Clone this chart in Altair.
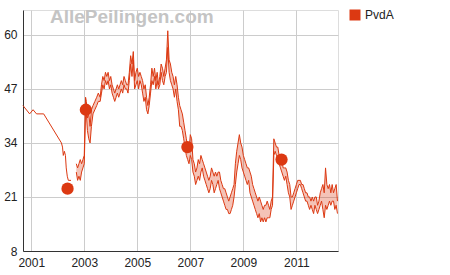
import altair as alt
import pandas as pd

# ---- data (seats for PvdA, x = decimal year) ----
pre_years = [2000.69, 2000.94, 2001.07, 2001.20, 2001.47, 2002.14, 2002.18, 2002.21,
             2002.25, 2002.29, 2002.32, 2002.36, 2002.40, 2002.50]
pre_vals = [43, 41, 42, 41, 41, 34, 33, 31, 32, 31, 28, 26, 25, 25]

band_years = [
    2002.70, 2002.75, 2002.80, 2002.85, 2002.90, 2002.95, 2003.00, 2003.05, 2003.08, 2003.12,
    2003.17, 2003.22, 2003.27, 2003.33, 2003.40, 2003.47, 2003.53, 2003.60, 2003.65, 2003.70,
    2003.75, 2003.80, 2003.85, 2003.90, 2003.95, 2004.00, 2004.05, 2004.10, 2004.15, 2004.20,
    2004.25, 2004.30, 2004.35, 2004.40, 2004.45, 2004.50, 2004.55, 2004.60, 2004.65, 2004.70,
    2004.75, 2004.80, 2004.85, 2004.90, 2004.95, 2005.00, 2005.05, 2005.10, 2005.15, 2005.20,
    2005.25, 2005.30, 2005.35, 2005.40, 2005.45, 2005.50, 2005.55, 2005.60, 2005.65, 2005.70,
    2005.75, 2005.80, 2005.85, 2005.90, 2005.95, 2006.00, 2006.05, 2006.10, 2006.15, 2006.20,
    2006.25, 2006.30, 2006.35, 2006.40, 2006.45, 2006.50, 2006.55, 2006.60, 2006.65, 2006.70,
    2006.75, 2006.80, 2006.85, 2006.90, 2006.95, 2007.00, 2007.05, 2007.10, 2007.15, 2007.20,
    2007.25, 2007.30, 2007.35, 2007.40, 2007.45, 2007.50, 2007.55, 2007.60, 2007.65, 2007.70,
    2007.75, 2007.80, 2007.85, 2007.90, 2007.95, 2008.00, 2008.05, 2008.10, 2008.15, 2008.20,
    2008.25, 2008.30, 2008.35, 2008.40, 2008.45, 2008.50, 2008.55, 2008.60, 2008.65, 2008.70,
    2008.75, 2008.80, 2008.85, 2008.90, 2008.95, 2009.00, 2009.05, 2009.10, 2009.15, 2009.20,
    2009.25, 2009.30, 2009.35, 2009.40, 2009.45, 2009.50, 2009.55, 2009.60, 2009.65, 2009.70,
    2009.75, 2009.80, 2009.85, 2009.90, 2009.95, 2010.00, 2010.05, 2010.10, 2010.15, 2010.20,
    2010.25, 2010.30, 2010.35, 2010.40, 2010.45, 2010.50, 2010.55, 2010.60, 2010.65, 2010.70,
    2010.75, 2010.80, 2010.85, 2010.90, 2010.95, 2011.00, 2011.05, 2011.10, 2011.15, 2011.20,
    2011.25, 2011.30, 2011.35, 2011.40, 2011.45, 2011.50, 2011.55, 2011.60, 2011.65, 2011.70,
    2011.75, 2011.80, 2011.85, 2011.90, 2011.95, 2012.00, 2012.05, 2012.10, 2012.15, 2012.20,
    2012.25, 2012.30, 2012.35, 2012.40, 2012.45, 2012.50, 2012.55]
band_lo = [
    27, 25, 26, 25, 27, 28, 29, 42, 41, 37,
    35, 34, 38, 41, 42, 43, 44, 44, 46, 48,
    47, 49, 48, 49, 47, 48, 46, 45, 44, 45,
    46, 45, 46, 47, 46, 48, 47, 47, 46, 49,
    53, 50, 54, 47, 48, 49, 47, 49, 48, 46,
    44, 45, 42, 41, 43, 46, 49, 48, 50, 47,
    49, 47, 48, 51, 49, 48, 50, 51, 57, 51,
    49, 48, 47, 45, 47, 44, 42, 38, 38, 37,
    35, 33, 31, 30, 29, 31, 30, 27, 26, 24,
    25, 26, 25, 27, 28, 26, 25, 24, 23, 22,
    23, 25, 24, 22, 23, 24, 25, 23, 22, 21,
    20, 19, 18, 18, 17, 17, 18, 19, 21, 24,
    27, 29, 31, 30, 28, 27, 26, 25, 24, 25,
    22, 21, 20, 19, 18, 17, 16, 17, 15, 16,
    15, 16, 15, 16, 16, 16, 18, 19, 31, 32,
    31, 30, 29, 28, 27, 26, 25, 26, 24, 22,
    21, 18, 19, 20, 21, 22, 23, 24, 24, 23,
    22, 21, 20, 20, 19, 18, 19, 18, 17, 19,
    18, 17, 18, 19, 20, 18, 16, 19, 18, 19,
    20, 19, 20, 20, 18, 19, 17]
band_hi = [
    29, 28, 29, 30, 29, 30, 31, 45, 44, 40,
    41, 38, 42, 43, 44, 45, 46, 45, 48, 50,
    49, 51, 50, 51, 49, 50, 48, 47, 46, 47,
    48, 47, 48, 49, 48, 50, 49, 48, 48, 51,
    55, 53, 56, 49, 51, 52, 50, 51, 50, 49,
    47, 48, 45, 43, 45, 48, 52, 50, 52, 49,
    51, 48, 50, 53, 52, 50, 52, 54, 61, 54,
    53, 51, 50, 48, 50, 48, 45, 43, 42, 41,
    39, 37, 35, 33, 32, 36, 35, 30, 29, 27,
    28, 30, 29, 31, 30, 29, 28, 27, 26, 25,
    26, 28, 27, 26, 27, 26, 27, 27, 25, 24,
    23, 23, 22, 21, 20, 21, 22, 23, 24, 29,
    32, 34, 36, 34, 33, 31, 30, 29, 28, 28,
    27, 26, 24, 23, 22, 21, 20, 21, 20, 19,
    18, 19, 19, 20, 19, 18, 20, 21, 35, 34,
    33, 33, 31, 31, 30, 28, 28, 28, 27, 25,
    24, 21, 21, 22, 23, 24, 25, 25, 25, 24,
    24, 23, 22, 22, 21, 21, 20, 21, 20, 21,
    21, 19, 20, 22, 23, 24, 22, 28, 24, 23,
    24, 22, 24, 22, 23, 24, 20]

election_years = [2002.37, 2003.06, 2006.89, 2010.44]
election_seats = [23, 42, 33, 30]

party = ["PvdA"]
x_ticks = [2001, 2003, 2005, 2007, 2009, 2011]
y_ticks = [8, 21, 34, 47, 60]

RED = "#dc3912"
FONT = "Liberation Sans"

pre_df = pd.DataFrame({"year": pre_years, "seats": pre_vals})
band_df = pd.DataFrame({"year": band_years, "lo": band_lo, "hi": band_hi})
el_df = pd.DataFrame({"year": election_years, "seats": election_seats,
                      "party": party * len(election_years)})

xs = alt.Scale(domain=[2000.69, 2012.57], nice=False, zero=False)
ys = alt.Scale(domain=[8, 66], nice=False, zero=False)

x_axis = alt.Axis(values=x_ticks, format="d", title=None, grid=True, gridColor="#cccccc",
                  domainColor="#333333", ticks=False, labelPadding=6, labelFontSize=12,
                  labelColor="#222222", labelFont=FONT)
y_axis = alt.Axis(values=y_ticks, title=None, grid=True, gridColor="#cccccc",
                  domainColor="#333333", ticks=False, labelPadding=6, labelFontSize=12,
                  labelColor="#222222", labelFont=FONT)

area = alt.Chart(band_df).mark_area(color=RED, opacity=0.3).encode(
    x=alt.X("year:Q", scale=xs, axis=x_axis),
    y=alt.Y("lo:Q", scale=ys, axis=y_axis),
    y2="hi:Q",
)
lo_line = alt.Chart(band_df).mark_line(color=RED, strokeWidth=1).encode(
    x=alt.X("year:Q", scale=xs), y=alt.Y("lo:Q", scale=ys))
hi_line = alt.Chart(band_df).mark_line(color=RED, strokeWidth=1).encode(
    x=alt.X("year:Q", scale=xs), y=alt.Y("hi:Q", scale=ys))
pre_line = alt.Chart(pre_df).mark_line(color=RED, strokeWidth=1).encode(
    x=alt.X("year:Q", scale=xs), y=alt.Y("seats:Q", scale=ys))

dots = alt.Chart(el_df).mark_point(filled=True, opacity=1, size=150).encode(
    x=alt.X("year:Q", scale=xs),
    y=alt.Y("seats:Q", scale=ys),
    color=alt.Color("party:N", scale=alt.Scale(domain=party, range=[RED]),
                    legend=alt.Legend(title=None, orient="none", legendX=326, legendY=-1,
                                      symbolType="square", symbolSize=121,
                                      symbolStrokeWidth=0, labelFontSize=12,
                                      labelFont=FONT, labelColor="#222222",
                                      labelOffset=4)),
)

watermark = alt.Chart(pd.DataFrame({"t": ["AllePeilingen.com"]})).mark_text(
    font=FONT, fontSize=19, fontWeight="bold", color="#c4c4c4", align="left",
    baseline="alphabetic").encode(text="t:N", x=alt.value(27), y=alt.value(13))

chart = alt.layer(area, lo_line, hi_line, pre_line, dots, watermark).properties(
    width=315, height=241,
    autosize=alt.AutoSizeParams(type="none"),
    padding={"left": 23, "top": 10, "right": 112, "bottom": 24},
).configure_view(stroke=None).configure(background="white")

chart.save("out.html", embed_options={"renderer": "svg", "actions": False})
